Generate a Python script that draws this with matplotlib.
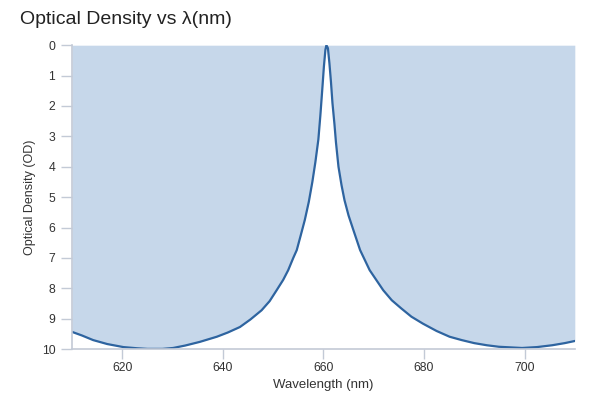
import matplotlib.pyplot as plt

plt.rcParams['font.family'] = ['Liberation Sans', 'DejaVu Sans']

# wavelength (nm) and optical density
wavelength = [610, 612, 614.2, 617, 620.2, 623, 625, 628, 630.1, 632.5,
              635.4, 638.8, 641, 643.4, 645.5, 647.7, 649.3, 650.7, 652, 653,
              654, 654.7, 655.5, 656.3, 657.1, 657.8, 658.4, 659, 659.4, 659.8,
              660.1, 660.4, 660.6, 660.9, 661.2, 661.5, 661.8, 662.2, 662.5, 663,
              663.6, 664.2, 665, 665.9, 667.3, 669.2, 671.9, 673.6, 675.5, 677.5,
              679.8, 682.5, 685.1, 687.5, 690, 692.5, 694.9, 699.5, 702.5, 705.5,
              708, 710]
od = [9.43, 9.55, 9.70, 9.83, 9.93, 9.97, 9.99, 9.99, 9.96, 9.88,
      9.76, 9.59, 9.45, 9.27, 9.02, 8.72, 8.42, 8.06, 7.72, 7.40,
      7.00, 6.74, 6.25, 5.75, 5.15, 4.50, 3.85, 3.10, 2.30, 1.40,
      0.70, 0.15, 0.0, 0.10, 0.60, 1.20, 1.90, 2.60, 3.20, 4.00,
      4.60, 5.10, 5.60, 6.05, 6.74, 7.40, 8.06, 8.39, 8.66, 8.93,
      9.16, 9.40, 9.59, 9.70, 9.80, 9.87, 9.92, 9.96, 9.93, 9.87,
      9.80, 9.73]

x_ticks = [620, 640, 660, 680, 700]
y_ticks = list(range(0, 11))

line_col = '#2e64a0'
fill_col = '#c6d7ea'
axis_col = '#c3cad6'
text_col = '#333333'

fig = plt.figure(figsize=(6, 4), dpi=100)
ax = fig.add_axes([0.12, 0.127, 0.838, 0.76])

ax.fill_between(wavelength, od, 0, color=fill_col, linewidth=0)
ax.plot(wavelength, od, color=line_col, linewidth=1.6, solid_joinstyle='round')

ax.set_xlim(610, 710)
ax.set_ylim(10, 0)
ax.set_xticks(x_ticks)
ax.set_yticks(y_ticks)

for s in ['top', 'right']:
    ax.spines[s].set_visible(False)
for s in ['left', 'bottom']:
    ax.spines[s].set_color(axis_col)
    ax.spines[s].set_linewidth(1.2)

ax.tick_params(axis='both', colors=axis_col, labelcolor=text_col,
               labelsize=8.7, width=1)
ax.tick_params(axis='y', pad=4, length=8)
ax.tick_params(axis='x', pad=2, length=7)

ax.set_xlabel('Wavelength (nm)', fontsize=9.5, color=text_col, labelpad=4)
ax.set_ylabel('Optical Density (OD)', fontsize=9, color=text_col, labelpad=4)

fig.text(0.034, 0.94, 'Optical Density vs λ(nm)', fontsize=14, color='#222222',
         ha='left', va='baseline')

fig.savefig('out.png', dpi=100)
